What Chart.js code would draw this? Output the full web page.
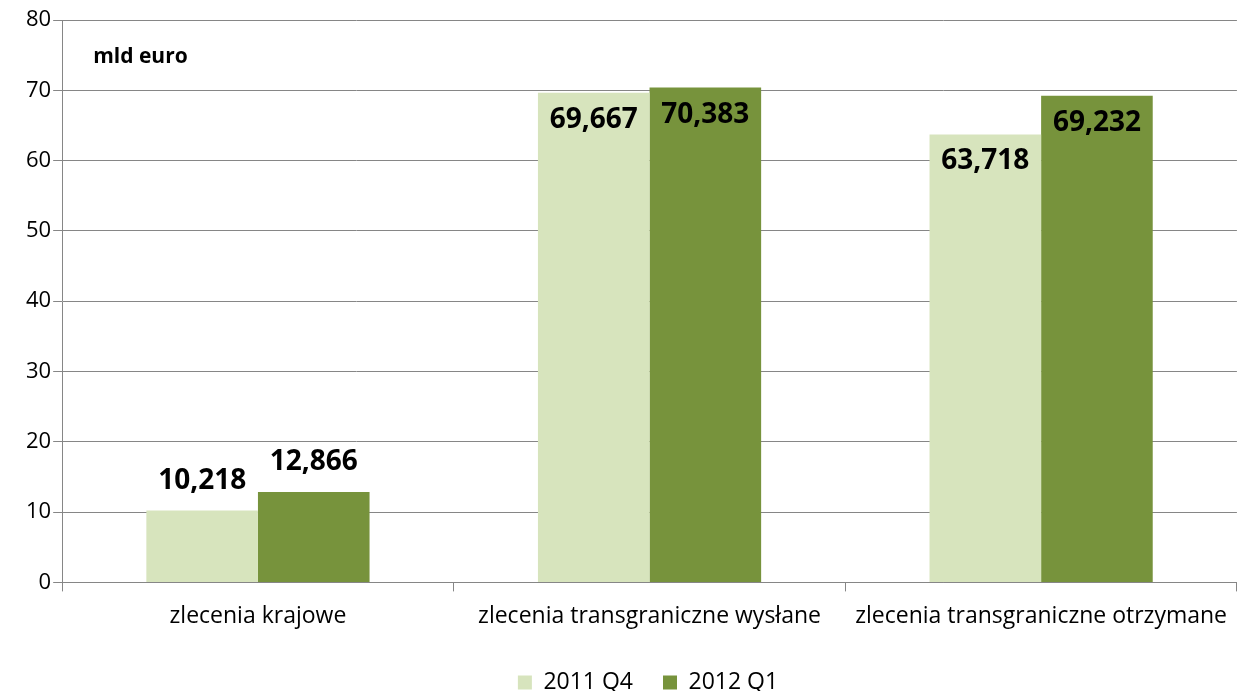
<!DOCTYPE html>
<html>
<head>
<meta charset="utf-8">
<script src="https://cdn.jsdelivr.net/npm/chart.js@4"></script>
<style>
    html, body { margin: 0; padding: 0; background: #fff; }
    #wrap { width: 1238px; height: 691px; }
</style>
</head>
<body>
<div id="wrap"><canvas id="chart"></canvas></div>
<script>
const categories = ['zlecenia krajowe', 'zlecenia transgraniczne wysłane', 'zlecenia transgraniczne otrzymane'];
const series2011Q4 = [10.218, 69.667, 63.718];
const series2012Q1 = [12.866, 70.383, 69.232];
const seriesNames = ['2011 Q4', '2012 Q1'];
const unitLabel = 'mld euro';

const FONT = '"Open Sans", "Noto Sans", sans-serif';

// data labels: above short bars, inside the top of tall ones
const valueLabels = {
    id: 'valueLabels',
    afterDatasetsDraw(chart) {
        const ctx = chart.ctx;
        ctx.save();
        ctx.font = 'bold 28px ' + FONT;
        ctx.fillStyle = '#000';
        ctx.textAlign = 'center';
        ctx.textBaseline = 'middle';
        chart.data.datasets.forEach((ds, i) => {
            const meta = chart.getDatasetMeta(i);
            meta.data.forEach((bar, j) => {
                const v = ds.data[j];
                const text = v.toFixed(3).replace('.', ',');
                const y = v > 50 ? bar.y + 27 : bar.y - 30;
                ctx.fillText(text, bar.x, y);
            });
        });
        ctx.restore();
    }
};

const unitText = {
    id: 'unitText',
    afterDraw(chart) {
        const { ctx, chartArea } = chart;
        ctx.save();
        ctx.font = 'bold 21px ' + FONT;
        ctx.fillStyle = '#000';
        ctx.textBaseline = 'middle';
        ctx.fillText(unitLabel, chartArea.left + 31, chartArea.top + 37);
        ctx.restore();
    }
};

// nudge the legend a bit right, like in the original
const legendShift = {
    id: 'legendShift',
    afterLayout(chart) {
        chart.legend.left += 17;
        chart.legend.right += 17;
    }
};

new Chart(document.getElementById('chart'), {
    type: 'bar',
    data: {
        labels: categories,
        datasets: [
            {
                label: seriesNames[0],
                data: series2011Q4,
                backgroundColor: '#D7E4BD',
            },
            {
                label: seriesNames[1],
                data: series2012Q1,
                backgroundColor: '#77933C',
            },
        ],
    },
    options: {
        responsive: true,
        maintainAspectRatio: false,
        animation: false,
        layout: { padding: { top: 20, right: 0, left: 24, bottom: -13 } },
        datasets: {
            bar: {
                categoryPercentage: 0.57,
                barPercentage: 1,
            },
        },
        plugins: {
            tooltip: { enabled: false },
            legend: {
                position: 'bottom',
                labels: {
                    boxWidth: 14,
                    boxHeight: 14,
                    padding: 30,
                    color: '#000',
                    font: { family: FONT, size: 23 },
                },
            },
        },
        scales: {
            x: {
                grid: {
                    offset: true,
                    drawOnChartArea: false,
                    tickLength: 9,
                    color: '#868686',
                },
                border: { color: '#868686' },
                ticks: {
                    color: '#000',
                    padding: 11,
                    font: { family: FONT, size: 23 },
                    maxRotation: 0,
                },
            },
            y: {
                min: 0,
                max: 80,
                ticks: {
                    stepSize: 10,
                    color: '#000',
                    padding: 2,
                    font: { family: FONT, size: 22 },
                },
                grid: {
                    color: '#868686',
                    tickLength: 9,
                },
                border: { color: '#868686' },
            },
        },
    },
    plugins: [valueLabels, unitText, legendShift],
});
</script>
</body>
</html>
